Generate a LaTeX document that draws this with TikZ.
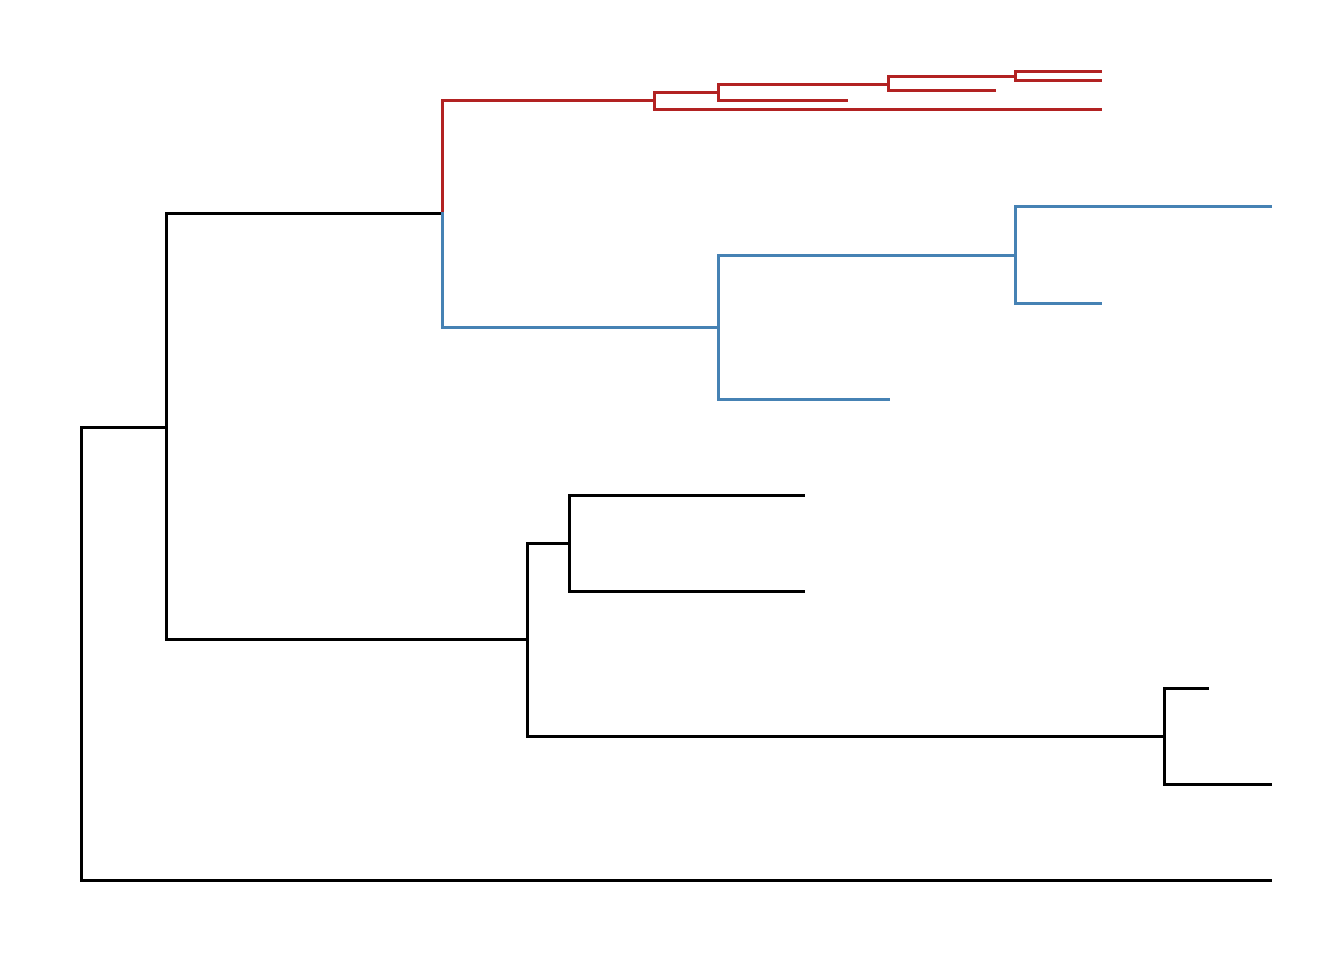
\documentclass[tikz,border=0pt]{standalone}
\definecolor{cladered}{RGB}{178,34,34}
\definecolor{cladeblue}{RGB}{70,130,180}
\begin{document}
\begin{tikzpicture}[x=1pt,y=-1pt,
  edge/.style={line width=3pt,line join=miter,line cap=rect},
  rededge/.style={edge,draw=cladered},
  blueedge/.style={edge,draw=cladeblue},
  blackedge/.style={edge,draw=black}]
\useasboundingbox[fill=white] (0,0) rectangle (1344,960);
% coordinates (internal nodes and tips)
\coordinate (root) at (81,653.5);
\coordinate (a) at (166,427);
\coordinate (outg) at (1270,880);
\coordinate (b) at (442,214);
\coordinate (c) at (527,639);
\coordinate (r1) at (654,101);
\coordinate (r2) at (718,93);
\coordinate (r3) at (888,85);
\coordinate (r4) at (1015,77);
\coordinate (rt1) at (1100,72);
\coordinate (rt2) at (1100,81);
\coordinate (rt3) at (994,91);
\coordinate (rt4) at (846,101);
\coordinate (rt5) at (1100,110);
\coordinate (b1) at (718,327);
\coordinate (b2) at (1015,255);
\coordinate (bt1) at (1270,207);
\coordinate (bt2) at (1100,303);
\coordinate (bt3) at (888,399);
\coordinate (c1) at (569,543);
\coordinate (ct1) at (803,495);
\coordinate (ct2) at (803,591);
\coordinate (c2) at (1164,736);
\coordinate (ct3) at (1207,688);
\coordinate (ct4) at (1270,784);
% black backbone
\draw[blackedge] (root) |- (a);
\draw[blackedge] (root) |- (outg);
\draw[blackedge] (a) |- (b);
\draw[blackedge] (a) |- (c);
\draw[blackedge] (c) |- (c1);
\draw[blackedge] (c1) |- (ct1);
\draw[blackedge] (c1) |- (ct2);
\draw[blackedge] (c) |- (c2);
\draw[blackedge] (c2) |- (ct3);
\draw[blackedge] (c2) |- (ct4);
% red clade
\draw[rededge] (b) |- (r1);
\draw[rededge] (r1) |- (r2);
\draw[rededge] (r1) |- (rt5);
\draw[rededge] (r2) |- (r3);
\draw[rededge] (r2) |- (rt4);
\draw[rededge] (r3) |- (r4);
\draw[rededge] (r3) |- (rt3);
\draw[rededge] (r4) |- (rt1);
\draw[rededge] (r4) |- (rt2);
% blue clade
\draw[blueedge] (b) |- (b1);
\draw[blueedge] (b1) |- (b2);
\draw[blueedge] (b1) |- (bt3);
\draw[blueedge] (b2) |- (bt1);
\draw[blueedge] (b2) |- (bt2);
\end{tikzpicture}
\end{document}
